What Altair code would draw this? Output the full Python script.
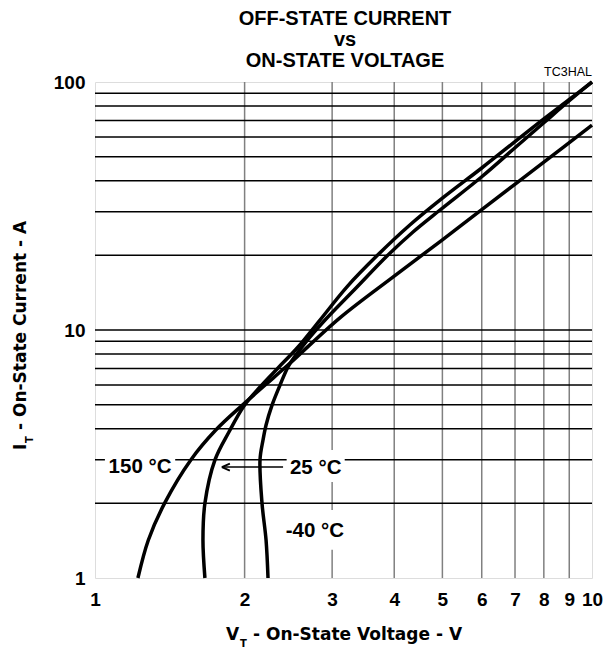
import altair as alt
import pandas as pd

# ---- curve data ----
v150 = [1.22, 1.28, 1.38, 1.56, 1.75, 1.98, 2.20, 2.47, 3.11, 4.0, 5.0, 6.0, 8.0, 10.0]
i150 = [1.0, 1.42, 2.0, 3.0, 3.95, 4.98, 6.0, 7.36, 11.2, 16.5, 23.1, 30.6, 47.5, 67.0]

v25 = [1.664, 1.649, 1.664, 1.744, 1.86, 1.994, 2.148, 2.335, 2.562, 2.836, 3.22, 3.70,
       4.30, 5.0, 6.0, 7.0, 8.0, 9.0, 10.0]
i25 = [1.0, 1.42, 2.0, 3.0, 3.88, 4.94, 5.89, 7.03, 8.54, 10.97, 15.0, 20.0,
       26.5, 34.0, 45.0, 57.5, 71.0, 85.0, 100.0]

vm40 = [2.229, 2.209, 2.168, 2.148, 2.178, 2.209, 2.271, 2.357, 2.457, 2.646, 2.903, 3.351,
        3.868, 4.364, 4.945, 6.0, 7.0, 8.0, 9.0, 10.0]
im40 = [1.0, 1.42, 2.0, 3.0, 3.6, 4.14, 4.98, 6.0, 7.22, 8.86, 10.97, 14.77,
        19.88, 24.85, 30.47, 41.5, 54.3, 68.5, 84.0, 100.0]

# ---- axes / grid ----
x_ticks = [1, 2, 3, 4, 5, 6, 7, 8, 9, 10]
y_ticks = [1, 10, 100]
v_grid = [2, 3, 4, 5, 6, 7, 8, 9]
i_grid = [2, 3, 4, 5, 6, 7, 8, 9, 10, 20, 30, 40, 50, 60, 70, 80, 90]

# ---- annotations ----
label_text = ["150 °C", "25 °C", "-40 °C"]
label_v = [1.232, 2.78, 2.77]
label_i = [2.80, 2.78, 1.546]
# white boxes behind labels (V range, I range)
box_v1 = [1.047, 2.43, 2.53]
box_v2 = [1.45, 3.18, 3.18]
box_i1 = [2.44, 2.44, 1.30]
box_i2 = [3.22, 3.28, 1.88]
arrow_v = [2.39, 1.80]
arrow_i = [2.80, 2.80]

title_lines = ["OFF-STATE CURRENT", "vs", "ON-STATE VOLTAGE"]

FONT = "Liberation Sans"
TFONT = "DejaVu Sans"

rows = []
for name, vs, is_ in [("150", v150, i150), ("25", v25, i25), ("-40", vm40, im40)]:
    for k, (v, i) in enumerate(zip(vs, is_)):
        rows.append({"series": name, "idx": k, "V": v, "I": i})
curves = pd.DataFrame(rows)

xscale = alt.Scale(type="log", domain=[1, 10], nice=False)
yscale = alt.Scale(type="log", domain=[1, 100], nice=False)

xaxis = alt.Axis(values=x_ticks, format="d", grid=False, ticks=False, domain=False,
                 labelFont=FONT, labelFontSize=19, labelFontWeight="bold", labelColor="black",
                 labelPadding=12, labelFlush=False, labelOverlap=False, title=None)
yaxis = alt.Axis(values=y_ticks, format="d", grid=False, ticks=False, domain=False,
                 labelFont=FONT, labelFontSize=19, labelFontWeight="bold", labelColor="black",
                 labelPadding=10, labelFlush=False, labelOverlap=False, title=None)

X = alt.X("V:Q", scale=xscale, axis=xaxis)
Y = alt.Y("I:Q", scale=yscale, axis=yaxis)

hgrid = alt.Chart(pd.DataFrame({"I": i_grid})).mark_rule(color="black", strokeWidth=1.5).encode(y=Y)
vgrid = alt.Chart(pd.DataFrame({"V": v_grid})).mark_rule(color="#808080", strokeWidth=1.5).encode(x=X)

boxes = alt.Chart(pd.DataFrame({"V": box_v1, "V2": box_v2, "I": box_i1, "I2": box_i2})).mark_rect(
    fill="white").encode(x=X, x2="V2:Q", y=Y, y2="I2:Q")

lines = alt.Chart(curves).mark_line(color="black", strokeWidth=3.5, interpolate="catmull-rom",
                                    strokeCap="butt").encode(
    x=X, y=Y, detail="series:N", order="idx:Q")

labels = alt.Chart(pd.DataFrame({"V": label_v, "I": label_i, "t": label_text})).mark_text(
    font=FONT, fontSize=20.5, fontWeight="bold", color="black", align="center", baseline="middle").encode(
    x=X, y=Y, text="t:N")

arrow = alt.Chart(pd.DataFrame({"V": arrow_v, "I": arrow_i, "k": [0, 1]})).mark_line(
    color="black", strokeWidth=1.5).encode(x=X, y=Y, order="k:Q")
arrowhead = alt.Chart(pd.DataFrame({"V": [arrow_v[1]], "I": [arrow_i[1]]})).mark_point(
    shape="M0,0L1.6,-0.7M0,0L1.6,0.7", filled=False, stroke="black", strokeWidth=1.8, size=100,
    opacity=1).encode(x=X, y=Y)


def txt(s, x, y, size=17, weight="bold", angle=0, align="left", baseline="alphabetic", font=TFONT):
    return alt.Chart(pd.DataFrame({"t": [s]})).mark_text(
        font=font, fontSize=size, fontWeight=weight, color="black", align=align,
        baseline=baseline, angle=angle).encode(x=alt.value(x), y=alt.value(y), text="t:N")


# axis titles with subscripts
xt1 = txt("V", 131, 558)
xt2 = txt("T", 145, 565, size=10)
xt3 = txt("- On-State Voltage - V", 158, 558)
yt1 = txt("I", -69, 368, angle=270)
yt2 = txt("T", -62, 361, size=10, angle=270)
yt3 = txt("- On-State Current - A", -69, 348, angle=270)
code = txt("TC3HAL", 497, -6, size=12.5, weight="normal", align="right", font=FONT)

# chart title (three centred lines)
tl = [txt(s, 250, yy, size=20, align="center", font=FONT)
      for s, yy in zip(title_lines, [-57, -36, -15])]

chart = alt.layer(vgrid, hgrid, boxes, lines, arrow, arrowhead, labels,
                  xt1, xt2, xt3, yt1, yt2, yt3, code, *tl).properties(
    width=497, height=496,
    padding={"left": 87, "top": 74, "right": 15, "bottom": 70},
    autosize=alt.AutoSizeParams(type="none"),
).configure_view(stroke="black", strokeWidth=2.5).configure(background="white")

chart.save("out.html", embed_options={"renderer": "svg", "actions": False})
